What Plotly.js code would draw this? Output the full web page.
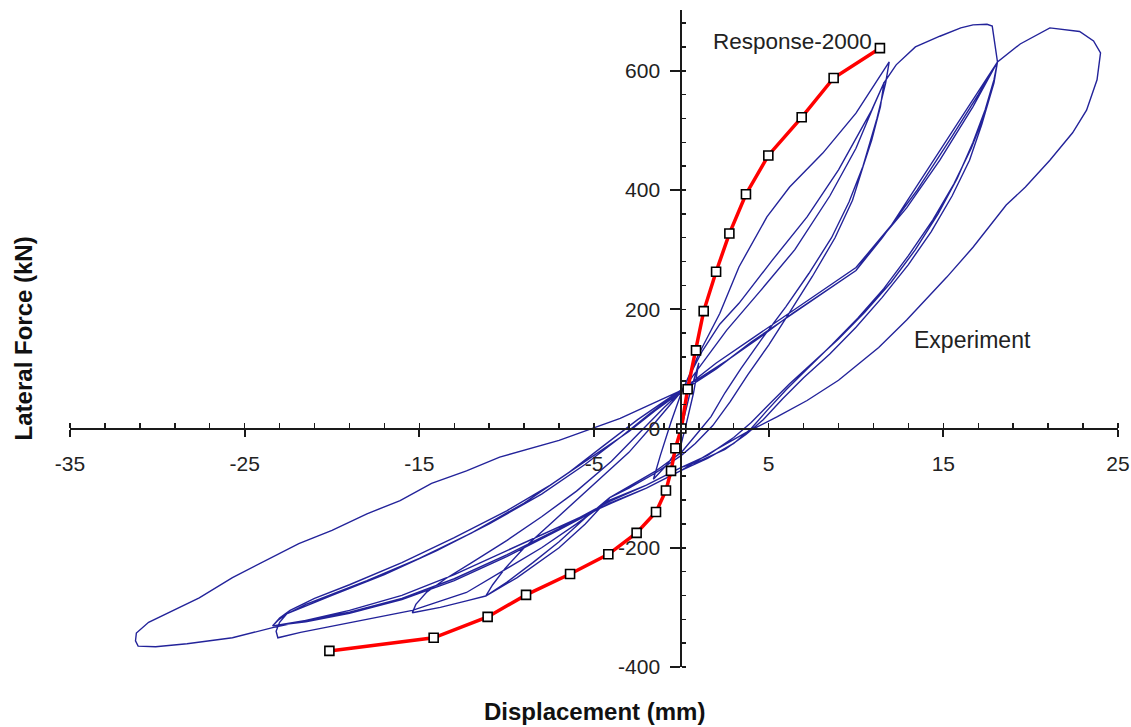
<!DOCTYPE html>
<html>
<head>
<meta charset="utf-8">
<script src="https://cdn.plot.ly/plotly-3.0.1.min.js"></script>
<style>
  html, body { margin: 0; padding: 0; background: #ffffff; }
  #chart { width: 1131px; height: 727px; }
</style>
</head>
<body>
<div id="chart"></div>
<script>
// ---------------- Response-2000 prediction ----------------
const respX = [-20.15, -14.18, -11.09, -8.89, -6.37, -4.18, -2.56, -1.45, -0.88, -0.59, -0.34, 0, 0.36, 0.84, 1.28, 1.99, 2.75, 3.70, 4.98, 6.89, 8.72, 11.37];
const respY = [-373, -351, -316, -279, -244, -211, -175, -140, -104, -71, -33, 0, 66, 131, 197, 263, 327, 393, 458, 522, 588, 638];

// ---------------- Experiment (cycle by cycle) ----------------
const expX_c0 = [0, 0.5, 1.0, 0.7, 0.3, 0, -0.8, -1.6, -1.2, -0.6, 0];
const expY_c0 = [0, 60, 110, 60, 10, -25, -60, -85, -45, 10, 60];

const expX_c1 = [1.0, 2.2, 3.3, 4.9, 6.2, 8.1, 10.0, 11.9, 11.7, 11.2, 10.4, 9.6, 8.6, 7.3, 6.0, 4.6, 3.4, 2.5, 1.7, 1.0, 0, -1.5, -3, -4.1, -5.5, -7, -8.5, -10, -11.2, -10.8, -10.1, -9, -7.5, -6, -4.5, -3, -1.5, 0];
const expY_c1 = [125, 193, 271, 355, 405, 462, 529, 615, 580, 520, 440, 380, 320, 260, 205, 150, 100, 60, 20, -5, -40, -72, -98, -116, -150, -190, -225, -258, -281, -262, -235, -200, -160, -120, -80, -40, 10, 62];

const expX_c2 = [1.2, 2.2, 3.3, 5.2, 7.2, 9.0, 10.9, 11.6, 11.4, 10.9, 10.4, 9.8, 8.8, 7.5, 6.2, 5.0, 3.8, 2.8, 1.8, 0.8, 0, -1.5, -3, -4.1, -5.5, -7, -9.4, -11.2, -12.3, -13.8, -15.4, -15.2, -14.6, -13.5, -12, -10, -8, -6, -4, -2.2, -1, 0];
const expY_c2 = [130, 175, 210, 282, 355, 434, 534, 580, 540, 484, 439, 383, 320, 255, 195, 140, 90, 45, 5, -25, -45, -75, -100, -116, -160, -200, -250, -281, -289, -300, -309, -295, -275, -252, -225, -188, -148, -105, -55, 0, 35, 62];

const expX_c3 = [1.2, 2.6, 4.5, 6.5, 8.5, 10, 11, 11.6, 12.3, 13.4, 14.8, 16.0, 16.7, 17.5, 17.8, 18.0, 18.1, 17.8, 17.2, 16.5, 15.5, 14.3, 13, 11.5, 10, 8.5, 7, 5.8, 4.7, 3.7, 2.5, 1, 0, -2, -4.1, -6, -8, -10, -12.3, -15.4, -18, -20, -21.8, -23.1, -23.2, -23.0, -22.6, -21.5, -20, -18, -15, -12, -9, -6.5, -4.5, -2.5, -1, 0];
const expY_c3 = [110, 165, 230, 300, 390, 470, 540, 580, 610, 640, 658, 672, 677, 678, 675, 640, 615, 570, 510, 450, 390, 330, 275, 220, 170, 125, 85, 50, 15, -10, -35, -55, -65, -95, -120, -160, -200, -235, -275, -305, -320, -332, -342, -351, -340, -325, -311, -295, -278, -255, -218, -175, -125, -75, -30, 15, 45, 65];

const expX_c4 = [2.6, 4.5, 6.35, 8.3, 10, 10.9, 12.9, 14.8, 16.7, 18.1, 17.9, 17.4, 16.6, 15.6, 14.4, 13, 11.6, 10.1, 8.6, 7.2, 6, 4.9, 4, 3, 1.5, 0, -2, -4.1, -7, -10, -13, -16, -19, -21.5, -23.4, -23.0, -22.4, -21, -19, -16, -13, -10, -7.5, -5, -3, -1.5, 0];
const expY_c4 = [114, 153, 193, 232, 265, 300, 370, 450, 540, 615, 580, 530, 470, 410, 350, 290, 235, 185, 140, 100, 65, 30, 0, -25, -50, -70, -100, -125, -170, -215, -255, -287, -310, -324, -331, -318, -305, -285, -262, -225, -183, -138, -95, -45, -5, 30, 62];

const expX_c5 = [2, 4, 6, 8, 10, 11.5, 13.5, 15.5, 17, 18.1, 17.9, 17.4, 16.7, 15.8, 14.7, 13.4, 12, 10.5, 9, 7.5, 6.2, 5, 4, 3, 1.5, 0, -2, -4.1, -7, -10, -13, -16, -19, -21.5, -23.4, -23.1, -22.6, -20, -17, -14, -11, -8, -5.5, -3.5, -1.8, 0];
const expY_c5 = [100, 145, 185, 225, 265, 320, 400, 490, 560, 615, 585, 535, 480, 420, 360, 300, 245, 195, 150, 110, 75, 40, 10, -15, -45, -65, -95, -122, -168, -212, -252, -285, -308, -322, -331, -322, -311, -280, -245, -205, -160, -110, -60, -15, 25, 64];

const expX_c6 = [2, 4, 6, 8, 10, 12, 14, 16, 17.2, 18.1, 19.4, 21.1, 22.8, 23.6, 24.0, 23.8, 23.2, 22.4, 21.1, 19.7, 18.6, 16.7, 15.2, 12.9, 11.3, 9.0, 7.2, 5.5, 3.7, 2, 0, -2, -4, -7, -10, -13, -16, -19, -21.5, -23.4, -25.7, -28.3, -30.1, -31.1, -31.25, -31.2, -30.5, -29.5, -27.6, -25.7, -23.8, -21.9, -20.0, -18.0, -16.1, -14.3, -12.3, -10.4, -7.0, -3.5, 0];
const expY_c6 = [110, 150, 190, 230, 270, 340, 430, 520, 575, 615, 645, 672, 666, 650, 630, 585, 534, 496, 450, 405, 375, 304, 254, 182, 136, 81, 47, 20, -7, -35, -70, -100, -125, -165, -205, -245, -280, -305, -322, -334, -351, -361, -366, -365, -356, -343, -325, -311, -284, -250, -222, -193, -171, -143, -121, -92, -71, -48, -20, 17, 64];

const expX = [].concat(expX_c0, expX_c1, expX_c2, expX_c3, expX_c4, expX_c5, expX_c6);
const expY = [].concat(expY_c0, expY_c1, expY_c2, expY_c3, expY_c4, expY_c5, expY_c6);

// ---------------- Axis ticks ----------------
const xTickVals = [-35, -25, -15, -5, 5, 15, 25];
const xTickText = ['-35', '-25', '-15', '-5', '5', '15', '25'];
const yTickVals = [-400, -200, 0, 200, 400, 600];
const yTickText = ['-400', '-200', '0', '200', '400', '600'];
const xRange = [-35, 25];
const yRange = [-400, 702];

const FONT = 'Arial, "Liberation Sans", sans-serif';
const axisColor = '#1a1a1a';
const xZeroFrac = (0 - yRange[0]) / (yRange[1] - yRange[0]);
const yZeroFrac = (0 - xRange[0]) / (xRange[1] - xRange[0]);

const traces = [
  {
    x: expX, y: expY, type: 'scatter', mode: 'lines',
    line: { color: '#23239a', width: 1.4 },
    hoverinfo: 'skip'
  },
  {
    x: respX, y: respY, type: 'scatter', mode: 'lines+markers',
    line: { color: '#ff0000', width: 3.5 },
    marker: { symbol: 'square', size: 9, color: '#ffffff', line: { color: '#000000', width: 1.6 } },
    hoverinfo: 'skip'
  }
];

const layout = {
  width: 1131, height: 727,
  margin: { l: 70, r: 13, t: 10, b: 60 },
  paper_bgcolor: '#ffffff', plot_bgcolor: '#ffffff',
  showlegend: false,
  font: { family: FONT, size: 21, color: '#222222' },
  xaxis: {
    range: xRange, anchor: 'free', position: xZeroFrac,
    showgrid: false, zeroline: false,
    showline: true, linecolor: axisColor, linewidth: 2,
    tickmode: 'array', tickvals: xTickVals, ticktext: xTickText,
    ticks: 'outside', ticklen: 7, tickwidth: 2, tickcolor: axisColor,
    ticklabelstandoff: 9,
    tickfont: { family: FONT, size: 21, color: '#222222' },
    minor: { ticks: 'inside', dtick: 2, tick0: -35, ticklen: 5, tickwidth: 1.5, tickcolor: axisColor, showgrid: false }
  },
  xaxis2: {
    range: xRange, overlaying: 'x', anchor: 'free', position: xZeroFrac,
    showgrid: false, zeroline: false, showline: false,
    tickmode: 'array', tickvals: xTickVals, showticklabels: false,
    ticks: 'inside', ticklen: 7, tickwidth: 2, tickcolor: axisColor
  },
  yaxis: {
    range: yRange, anchor: 'free', position: yZeroFrac,
    showgrid: false, zeroline: false,
    showline: true, linecolor: axisColor, linewidth: 2,
    tickmode: 'array', tickvals: yTickVals, ticktext: yTickText,
    ticks: 'outside', ticklen: 10, tickwidth: 2, tickcolor: axisColor,
    ticklabelstandoff: 6,
    tickfont: { family: FONT, size: 21, color: '#222222' },
    minor: { ticks: 'inside', dtick: 40, tick0: -400, ticklen: 4, tickwidth: 1.5, tickcolor: axisColor, showgrid: false }
  },
  yaxis2: {
    range: yRange, overlaying: 'y', anchor: 'free', position: yZeroFrac,
    showgrid: false, zeroline: false, showline: false,
    tickmode: 'array', tickvals: yTickVals, showticklabels: false,
    ticks: 'inside', ticklen: 5, tickwidth: 2, tickcolor: axisColor
  },
  annotations: [
    { text: 'Displacement (mm)', xref: 'paper', yref: 'paper', x: 0.5, y: -0.067, xanchor: 'center', yanchor: 'middle',
      showarrow: false, font: { family: FONT, size: 24, color: '#111111', weight: 'bold' } },
    { text: 'Lateral Force (kN)', xref: 'paper', yref: 'paper', x: -0.044, y: 0.5, xanchor: 'center', yanchor: 'middle',
      textangle: -90, showarrow: false, font: { family: FONT, size: 24, color: '#111111', weight: 'bold' } },
    { text: 'Response-2000', xref: 'x', yref: 'y', x: 1.72, y: 650, xanchor: 'left', yanchor: 'middle',
      showarrow: false, font: { family: FONT, size: 22.5, color: '#222222' } },
    { text: 'Experiment', xref: 'x', yref: 'y', x: 13.2, y: 148, xanchor: 'left', yanchor: 'middle',
      showarrow: false, font: { family: FONT, size: 23, color: '#222222' } }
  ]
};

Plotly.newPlot('chart', traces, layout, { staticPlot: true, displayModeBar: false });
</script>
</body>
</html>
